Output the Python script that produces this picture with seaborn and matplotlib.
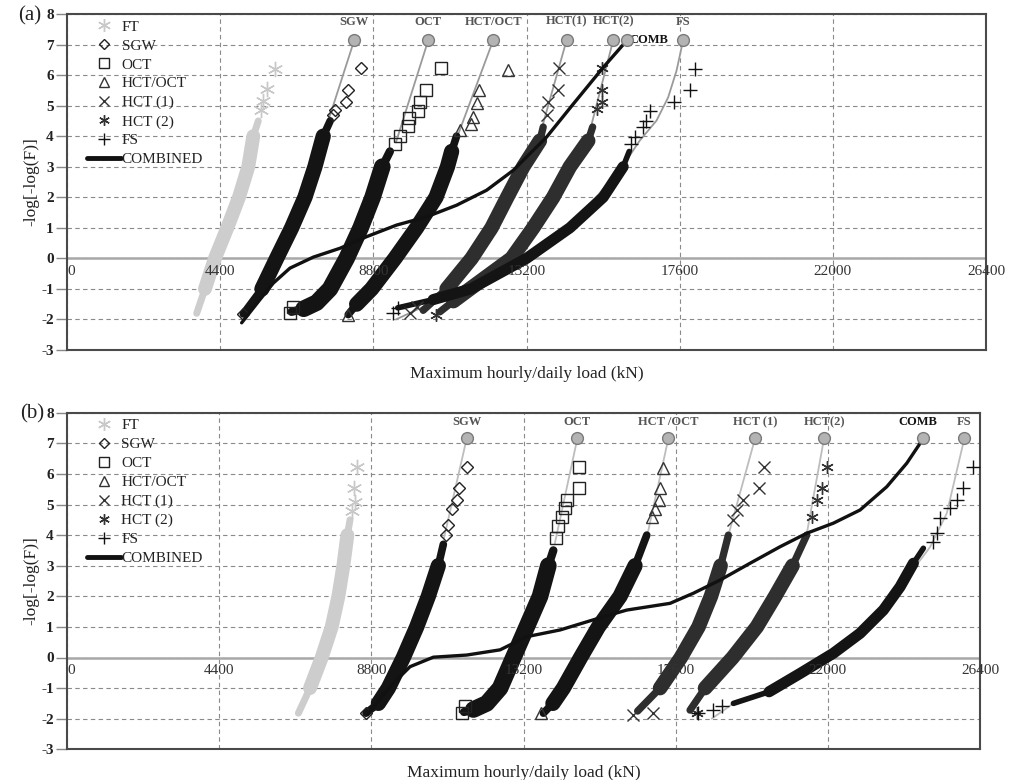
import numpy as np
import matplotlib
matplotlib.use("Agg")
import matplotlib.pyplot as plt
import seaborn as sns
from matplotlib.lines import Line2D

sns.set_theme(style="white")
plt.rcParams['font.family'] = ['Liberation Serif', 'DejaVu Serif']

# ---------------- axis / labels ----------------
XTICKS = [0, 4400, 8800, 13200, 17600, 22000, 26400]
YTICKS = [-3, -2, -1, 0, 1, 2, 3, 4, 5, 6, 7, 8]
LEGEND_LABELS = ["FT", "SGW", "OCT", "HCT/OCT", "HCT (1)", "HCT (2)", "FS", "COMBINED"]
XLABEL = "Maximum hourly/daily load (kN)"
YLABEL = "-log[-log(F)]"

# ================= PANEL (a) =================
A_FT_X = [3725, 3963, 4250, 4605, 4940, 5208, 5352, 5495]
A_FT_Y = [-1.8, -1.0, 0.0, 1.0, 2.0, 3.0, 4.0, 4.5]
A_FT_TX = [5560, 5640, 5753, 5974]
A_FT_TY = [4.85, 5.15, 5.54, 6.19]

A_SGW_X = [5064, 5600, 6022, 6453, 6835, 7122, 7361, 7560]
A_SGW_Y = [-1.82, -1.0, 0.0, 1.0, 2.0, 3.0, 4.0, 4.5]
A_SGW_TX = [5064, 7640, 7697, 8003, 8060, 8444]
A_SGW_TY = [-1.82, 4.7, 4.86, 5.13, 5.52, 6.22]
A_SGW_FX = [8251, 7420]
A_SGW_FY = [7.14, 4.2]

A_OCT_X = [6450, 6800, 7170, 7553, 8033, 8435, 8779, 9057, 9276]
A_OCT_Y = [-1.75, -1.65, -1.45, -1.0, 0.0, 1.0, 2.0, 3.0, 3.5]
A_OCT_TX = [6405, 6500, 9420, 9564, 9803, 9832, 10071, 10138, 10310, 10741]
A_OCT_TY = [-1.79, -1.6, 3.73, 4.02, 4.32, 4.6, 4.84, 5.13, 5.52, 6.22]
A_OCT_FX = [10377, 9450]
A_OCT_FY = [7.14, 3.8]

A_HO_X = [8079, 8320, 8750, 9420, 10043, 10600, 10930, 11049, 11191]
A_HO_Y = [-1.84, -1.5, -1.0, 0.0, 1.0, 2.0, 3.0, 3.5, 4.0]
A_HO_TX = [8079, 11287, 11603, 11670, 11765, 11843, 12676]
A_HO_TY = [-1.84, 4.19, 4.4, 4.62, 5.1, 5.51, 6.16]
A_HO_FX = [12243, 11250]
A_HO_FY = [7.14, 4.1]

A_H1_X = [10233, 10905, 11622, 12196, 12646, 13106, 13584, 13680]
A_H1_Y = [-1.7, -1.0, 0.0, 1.0, 2.0, 3.0, 3.85, 4.3]
A_H1_TX = [9851, 10050, 13780, 13823, 14110, 14130]
A_H1_TY = [-1.78, -1.6, 4.7, 5.13, 5.52, 6.22]
A_H1_FX = [14351, 13650]
A_H1_FY = [7.14, 4.3]

A_H2_X = [10712, 11100, 11574, 12770, 13393, 13967, 14446, 14972, 15100]
A_H2_Y = [-1.75, -1.4, -1.0, 0.0, 1.0, 2.0, 3.0, 3.85, 4.3]
A_H2_TX = [10600, 15211, 15355, 15355, 15355]
A_H2_TY = [-1.85, 4.89, 5.13, 5.52, 6.22]
A_H2_FX = [15690, 15050]
A_H2_FY = [7.14, 4.3]

A_FS_X = [9500, 10520, 11600, 13202, 14446, 15402, 15977, 16150]
A_FS_Y = [-1.62, -1.35, -1.0, 0.0, 1.0, 2.0, 3.0, 3.5]
A_FS_TX = [9372, 9516, 16215, 16311, 16550, 16646, 16761, 17430, 17890, 18036]
A_FS_TY = [-1.78, -1.62, 3.75, 3.97, 4.29, 4.5, 4.84, 5.13, 5.52, 6.2]
A_FS_FX = [17700, 17509, 17269, 16935, 16456, 15950, 14446, 13202, 11600, 10300, 9450]
A_FS_FY = [7.14, 6.14, 5.27, 4.51, 3.86, 3.0, 1.0, 0.0, -1.0, -1.55, -2.0]

A_COMB_X = [5017, 5543, 5926, 6405, 7075, 7840, 8607, 9469, 10330, 11192, 12053,
            12818, 13010, 13776, 14541, 15403, 16026, 16073]
A_COMB_Y = [-2.11, -1.35, -0.81, -0.32, 0.04, 0.33, 0.71, 1.09, 1.36, 1.74, 2.23,
            2.88, 3.1, 3.97, 5.05, 6.25, 7.06, 7.14]

A_CIRCLE_X = [8251, 10377, 12243, 14351, 15690, 16073, 17700]
A_CIRCLE_Y = [7.14, 7.14, 7.14, 7.14, 7.14, 7.14, 7.14]
A_TOP_LABELS = ["SGW", "OCT", "HCT/OCT", "HCT(1)", "HCT(2)", "FS"]
A_TOP_LABEL_X = [8251, 10377, 12243, 14351, 15690, 17700]
A_COMB_LABEL_X = 16150

# ================= PANEL (b) =================
B_FT_X = [6690, 7027, 7365, 7654, 7847, 7991, 8107, 8184]
B_FT_Y = [-1.82, -1.0, 0.0, 1.0, 2.0, 3.0, 4.0, 4.5]
B_FT_TX = [8250, 8329, 8309, 8378]
B_FT_TY = [4.8, 5.09, 5.53, 6.24]

B_SGW_X = [8647, 9003, 9292, 9726, 10112, 10448, 10737, 10882]
B_SGW_Y = [-1.82, -1.5, -1.0, 0.0, 1.0, 2.0, 3.0, 3.7]
B_SGW_TX = [8647, 10950, 11027, 11124, 11269, 11336, 11558]
B_SGW_TY = [-1.82, 4.0, 4.33, 4.84, 5.15, 5.53, 6.24]
B_SGW_FX = [11558, 10900]
B_SGW_FY = [7.16, 3.9]

B_OCT_X = [11480, 11750, 12137, 12522, 12907, 13293, 13678, 13918, 14063]
B_OCT_Y = [-1.78, -1.7, -1.5, -1.0, 0.0, 1.0, 2.0, 3.0, 3.5]
B_OCT_TX = [11413, 11509, 14150, 14208, 14305, 14402, 14450, 14806, 14806]
B_OCT_TY = [-1.82, -1.6, 3.9, 4.3, 4.6, 4.9, 5.15, 5.53, 6.24]
B_OCT_FX = [14758, 14100]
B_OCT_FY = [7.16, 3.7]

B_HO_X = [13775, 14050, 14353, 14850, 15365, 15992, 16426, 16764]
B_HO_Y = [-1.82, -1.5, -1.0, 0.0, 1.0, 2.0, 3.0, 4.0]
B_HO_TX = [13700, 16908, 17004, 17129, 17149, 17245]
B_HO_TY = [-1.82, 4.6, 4.84, 5.15, 5.53, 6.18]
B_HO_FX = [17389, 16800]
B_HO_FY = [7.16, 4.1]

B_H1_X = [16500, 17149, 17750, 18260, 18620, 18900, 19124]
B_H1_Y = [-1.75, -1.0, 0.0, 1.0, 2.0, 3.0, 4.0]
B_H1_TX = [16377, 16955, 19250, 19366, 19559, 20021, 20156]
B_H1_TY = [-1.88, -1.82, 4.5, 4.82, 5.15, 5.53, 6.22]
B_H1_FX = [19896, 19150]
B_H1_FY = [7.16, 4.1]

B_H2_X = [18016, 18450, 19250, 19945, 20475, 20980, 21390]
B_H2_Y = [-1.72, -1.0, 0.0, 1.0, 2.0, 3.0, 4.0]
B_H2_TX = [18210, 21535, 21680, 21825, 21969]
B_H2_TY = [-1.82, 4.6, 5.15, 5.53, 6.24]
B_H2_FX = [21891, 21400]
B_H2_FY = [7.16, 4.1]

B_FS_X = [19270, 20300, 21200, 22161, 22932, 23606, 24089, 24474, 24763]
B_FS_Y = [-1.5, -1.12, -0.52, 0.14, 0.79, 1.55, 2.31, 3.08, 3.57]
B_FS_TX = [18257, 18690, 18932, 25053, 25149, 25246, 25535, 25728, 25902, 26191]
B_FS_TY = [-1.82, -1.72, -1.6, 3.78, 4.06, 4.55, 4.9, 5.15, 5.53, 6.22]
B_FS_FX = [25948, 25439, 24950, 24089, 22161, 20300, 19270, 18643]
B_FS_FY = [7.16, 4.71, 3.6, 2.31, 0.14, -1.12, -1.5, -2.0]

B_COMB_X = [8700, 9050, 9436, 9919, 10593, 11558, 12522, 13293, 14257, 15509, 16185,
            17438, 18112, 18884, 19751, 20619, 21390, 22161, 22932, 23704, 24283,
            24716, 24745]
B_COMB_Y = [-1.85, -1.35, -0.84, -0.3, 0.01, 0.08, 0.25, 0.68, 0.9, 1.33, 1.55,
            1.77, 2.1, 2.53, 3.08, 3.62, 4.06, 4.39, 4.82, 5.58, 6.35, 7.08, 7.16]

B_CIRCLE_X = [11558, 14758, 17389, 19896, 21891, 24745, 25948]
B_CIRCLE_Y = [7.16, 7.16, 7.16, 7.16, 7.16, 7.16, 7.16]
B_TOP_LABELS = ["SGW", "OCT", "HCT /OCT", "HCT (1)", "HCT(2)", "FS"]
B_TOP_LABEL_X = [11558, 14758, 17389, 19896, 21891, 25948]
B_COMB_LABEL_X = 24610

# ---------------- styles ----------------
ASTER = (6, 2, 0)
STYLE = {
    "FT":      dict(band="#cdcdcd", lw=10.0, marker=ASTER, ms=11, mfc="#c8c8c8", mec="#c8c8c8"),
    "SGW":     dict(band="#141414", lw=11.0, marker="D", ms=6, mfc="none", mec="#222222"),
    "OCT":     dict(band="#141414", lw=12.0, marker="s", ms=8, mfc="none", mec="#222222"),
    "HCT/OCT": dict(band="#141414", lw=11.0, marker="^", ms=8, mfc="none", mec="#333333"),
    "HCT (1)": dict(band="#2e2e2e", lw=10.5, marker="x", ms=8, mfc="none", mec="#333333"),
    "HCT (2)": dict(band="#2e2e2e", lw=10.5, marker=ASTER, ms=9, mfc="none", mec="#333333"),
    "FS":      dict(band="#141414", lw=8.0, marker="+", ms=10, mfc="none", mec="#111111"),
}


def draw_series(ax, name, bx, by, tx, ty, fx=None, fy=None, fitcol="#999999"):
    st = STYLE[name]
    if fx is not None:
        sns.lineplot(x=np.array(fx), y=np.array(fy), ax=ax, sort=False, estimator=None,
                     color=fitcol, lw=1.3, zorder=2)
    # thinner full band + thick core gives the tapered look of the dense point cloud
    sns.lineplot(x=np.array(bx), y=np.array(by), ax=ax, sort=False, estimator=None,
                 color=st["band"], lw=st["lw"] * 0.5, solid_capstyle="round",
                 solid_joinstyle="round", zorder=3)
    sns.lineplot(x=np.array(bx[1:-1]), y=np.array(by[1:-1]), ax=ax, sort=False,
                 estimator=None, color=st["band"], lw=st["lw"],
                 solid_capstyle="round", solid_joinstyle="round", zorder=3)
    sns.lineplot(x=np.array(tx), y=np.array(ty), ax=ax, sort=False, estimator=None,
                 linestyle="none", marker=st["marker"], markersize=st["ms"],
                 markerfacecolor=st["mfc"], markeredgecolor=st["mec"],
                 markeredgewidth=1.0, zorder=4)


def style_axes(ax):
    ax.set_xlim(0, 26400)
    ax.set_ylim(-3, 8)
    ax.set_xticks(XTICKS)
    ax.set_xticklabels([])
    ax.set_yticks(YTICKS)
    ax.set_yticklabels([str(t) for t in YTICKS], fontsize=11, fontweight="bold",
                       color="#222222")
    ax.tick_params(axis="x", length=0)
    ax.tick_params(axis="y", length=8, width=1.0, color="#888888", direction="out",
                   pad=1.5, left=True)
    ax.grid(True, linestyle=(0, (4, 3)), color="#8a8a8a", lw=0.8)
    ax.set_axisbelow(True)
    ax.axhline(0, color="#a8a8a8", lw=1.8, zorder=1)
    for sp in ax.spines.values():
        sp.set_color("#4a4a4a")
        sp.set_linewidth(1.5)
    for t in XTICKS:
        ha = "left" if t == 0 else "center"
        ax.text(t, -0.22, str(t), ha=ha, va="top", fontsize=11, color="#333333")
    ax.set_xlabel(XLABEL, fontsize=12.5, color="#222222", labelpad=8)
    ax.set_ylabel(YLABEL, fontsize=12.5, color="#222222")
    ax.yaxis.set_label_coords(-0.030, 0.5)
    handles = []
    for lab, key in zip(LEGEND_LABELS[:-1], STYLE.keys()):
        st = STYLE[key]
        handles.append(Line2D([], [], linestyle="none", marker=st["marker"],
                              markersize=st["ms"] * 0.85, markerfacecolor=st["mfc"],
                              markeredgecolor=st["mec"], markeredgewidth=1.0, label=lab))
    handles.append(Line2D([], [], color="#111111", lw=3.5, label=LEGEND_LABELS[-1]))
    leg = ax.legend(handles=handles, loc="upper left", bbox_to_anchor=(0.022, 0.982),
                    frameon=False, fontsize=11, handlelength=2.2, handletextpad=0.05,
                    labelspacing=0.34, borderaxespad=0, borderpad=0)
    for txt in leg.get_texts():
        txt.set_color("#222222")


fig = plt.figure(figsize=(10.1, 7.8), dpi=100)
axA = fig.add_axes([67 / 1010, 1 - 350 / 780, (986 - 67) / 1010, 336 / 780])
axB = fig.add_axes([67 / 1010, 1 - 749.3 / 780, (980 - 67) / 1010, 336.6 / 780])

# ---- panel (a)
fa = "#9a9a9a"
draw_series(axA, "FT", A_FT_X, A_FT_Y, A_FT_TX, A_FT_TY)
draw_series(axA, "SGW", A_SGW_X, A_SGW_Y, A_SGW_TX, A_SGW_TY, A_SGW_FX, A_SGW_FY, fa)
draw_series(axA, "OCT", A_OCT_X, A_OCT_Y, A_OCT_TX, A_OCT_TY, A_OCT_FX, A_OCT_FY, fa)
draw_series(axA, "HCT/OCT", A_HO_X, A_HO_Y, A_HO_TX, A_HO_TY, A_HO_FX, A_HO_FY, fa)
draw_series(axA, "HCT (1)", A_H1_X, A_H1_Y, A_H1_TX, A_H1_TY, A_H1_FX, A_H1_FY, fa)
draw_series(axA, "HCT (2)", A_H2_X, A_H2_Y, A_H2_TX, A_H2_TY, A_H2_FX, A_H2_FY, fa)
draw_series(axA, "FS", A_FS_X, A_FS_Y, A_FS_TX, A_FS_TY, A_FS_FX, A_FS_FY, fa)
sns.lineplot(x=np.array(A_COMB_X), y=np.array(A_COMB_Y), ax=axA, sort=False,
             estimator=None, color="#111111", lw=2.4, zorder=5)
sns.lineplot(x=np.array(A_CIRCLE_X), y=np.array(A_CIRCLE_Y), ax=axA, sort=False,
             estimator=None, linestyle="none", marker="o", markersize=8.5,
             markerfacecolor="#b3b3b3", markeredgecolor="#7a7a7a", markeredgewidth=1.0,
             zorder=6)
for lab, x in zip(A_TOP_LABELS, A_TOP_LABEL_X):
    axA.text(x, 7.55, lab, ha="center", va="bottom", fontsize=9, color="#555555",
             fontweight="bold")
axA.text(A_COMB_LABEL_X, 7.14, "COMB", ha="left", va="center", fontsize=9,
         color="#111111", fontweight="bold")
style_axes(axA)

# ---- panel (b)
fb = "#bdbdbd"
draw_series(axB, "FT", B_FT_X, B_FT_Y, B_FT_TX, B_FT_TY)
draw_series(axB, "SGW", B_SGW_X, B_SGW_Y, B_SGW_TX, B_SGW_TY, B_SGW_FX, B_SGW_FY, fb)
draw_series(axB, "OCT", B_OCT_X, B_OCT_Y, B_OCT_TX, B_OCT_TY, B_OCT_FX, B_OCT_FY, fb)
draw_series(axB, "HCT/OCT", B_HO_X, B_HO_Y, B_HO_TX, B_HO_TY, B_HO_FX, B_HO_FY, fb)
draw_series(axB, "HCT (1)", B_H1_X, B_H1_Y, B_H1_TX, B_H1_TY, B_H1_FX, B_H1_FY, fb)
draw_series(axB, "HCT (2)", B_H2_X, B_H2_Y, B_H2_TX, B_H2_TY, B_H2_FX, B_H2_FY, fb)
draw_series(axB, "FS", B_FS_X, B_FS_Y, B_FS_TX, B_FS_TY, B_FS_FX, B_FS_FY, fb)
sns.lineplot(x=np.array(B_COMB_X), y=np.array(B_COMB_Y), ax=axB, sort=False,
             estimator=None, color="#111111", lw=2.4, zorder=5)
sns.lineplot(x=np.array(B_CIRCLE_X), y=np.array(B_CIRCLE_Y), ax=axB, sort=False,
             estimator=None, linestyle="none", marker="o", markersize=8.5,
             markerfacecolor="#b3b3b3", markeredgecolor="#7a7a7a", markeredgewidth=1.0,
             zorder=6)
for lab, x in zip(B_TOP_LABELS, B_TOP_LABEL_X):
    axB.text(x, 7.5, lab, ha="center", va="bottom", fontsize=9, color="#555555",
             fontweight="bold")
axB.text(B_COMB_LABEL_X, 7.5, "COMB", ha="center", va="bottom", fontsize=9,
         color="#111111", fontweight="bold")
style_axes(axB)

fig.text(18 / 1010, 1 - 16 / 780, "(a)", fontsize=15, ha="left", va="center",
         color="#222222")
fig.text(20 / 1010, 1 - 414 / 780, "(b)", fontsize=15, ha="left", va="center",
         color="#222222")

fig.savefig("out.png", dpi=100)
